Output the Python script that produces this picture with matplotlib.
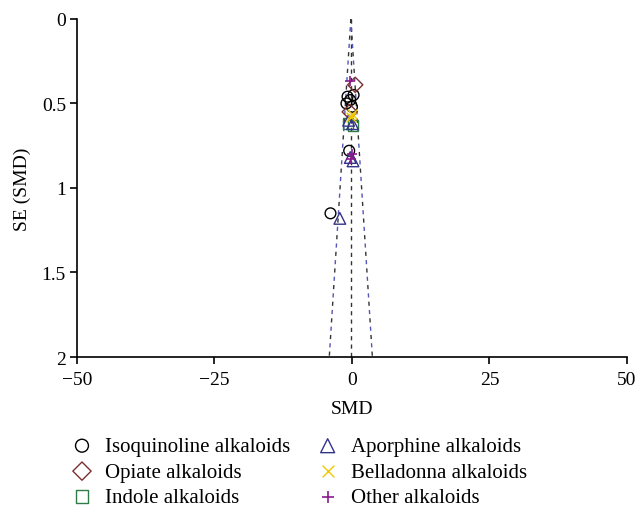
import matplotlib
matplotlib.use("Agg")
import matplotlib.pyplot as plt
import numpy as np

plt.rcParams['font.family'] = ['Liberation Serif', 'DejaVu Serif']

# study estimates (SMD, SE)
iso_smd = [-0.8, -0.3, 0.3, -1.0, 0.0, -0.5, -3.9]
iso_se = [0.46, 0.48, 0.45, 0.50, 0.52, 0.78, 1.15]
opi_smd = [0.6, -0.4]
opi_se = [0.39, 0.55]
ind_smd = [-0.7, 0.2]
ind_se = [0.62, 0.63]
apo_smd = [-0.6, 0.1, -0.3, 0.2, -2.2]
apo_se = [0.60, 0.62, 0.82, 0.84, 1.18]
bel_smd = [0.0, -0.2]
bel_se = [0.56, 0.58]
oth_smd = [-0.3, 0.1, -0.2]
oth_se = [0.37, 0.80, 0.83]

pooled = -0.2
se_max = 2.0

fig = plt.figure(figsize=(6.39, 5.10), dpi=100)
ax = fig.add_axes([0.1205, 0.298, 0.8605, 0.663])

se = np.array([0, se_max])
ax.plot([pooled, pooled], se, color='#333333', ls=(0, (3, 3)), lw=1)
for sgn in (-1, 1):
    ax.plot(pooled + sgn * 1.96 * se, se, color='#333333', ls=(0, (3, 9)), lw=1)
    ax.plot(pooled + sgn * 1.96 * se, se, color='#5555bb', ls=(6, (3, 9)), lw=1)

ax.scatter(iso_smd, iso_se, s=60, marker='o', facecolors='none', edgecolors='black', lw=1, label='Isoquinoline alkaloids', zorder=3)
ax.scatter(opi_smd, opi_se, s=60, marker='D', facecolors='none', edgecolors='#7a3030', lw=1, label='Opiate alkaloids', zorder=3)
ax.scatter(ind_smd, ind_se, s=60, marker='s', facecolors='none', edgecolors='#2e7d46', lw=1, label='Indole alkaloids', zorder=3)
ax.scatter(apo_smd, apo_se, s=70, marker='^', facecolors='none', edgecolors='#33338a', lw=1, label='Aporphine alkaloids', zorder=3)
ax.scatter(bel_smd, bel_se, s=50, marker='x', color='#f0c800', lw=1, label='Belladonna alkaloids', zorder=3)
ax.scatter(oth_smd, oth_se, s=60, marker='+', color='#8b1a8b', lw=1.2, label='Other alkaloids', zorder=3)

ax.set_xlim(-50, 50)
ax.set_ylim(2, 0)
ax.set_xticks([-50, -25, 0, 25, 50])
ax.set_xticklabels(['\u221250', '\u221225', '0', '25', '50'])
ax.set_yticks([0, 0.5, 1, 1.5, 2])
ax.set_yticklabels(['0', '0.5', '1', '1.5', '2'])
ax.spines['top'].set_visible(False)
ax.spines['right'].set_visible(False)
ax.tick_params(labelsize=14, direction='out', length=5, width=1.2)
ax.tick_params(axis='x', pad=5)
ax.tick_params(axis='y', pad=3)
ax.spines['left'].set_linewidth(1.2)
ax.spines['bottom'].set_linewidth(1.2)
ax.set_xlabel('SMD', fontsize=14, labelpad=9)
ax.set_ylabel('SE (SMD)', fontsize=14, labelpad=8)

fig.legend(loc='upper left', bbox_to_anchor=(0.112, 0.142), ncol=2, frameon=False,
           fontsize=15, handletextpad=0.6, columnspacing=1.3, labelspacing=0.28,
           handlelength=1.0, borderpad=0, borderaxespad=0, markerscale=1.2)

fig.savefig('out.png', dpi=100)
